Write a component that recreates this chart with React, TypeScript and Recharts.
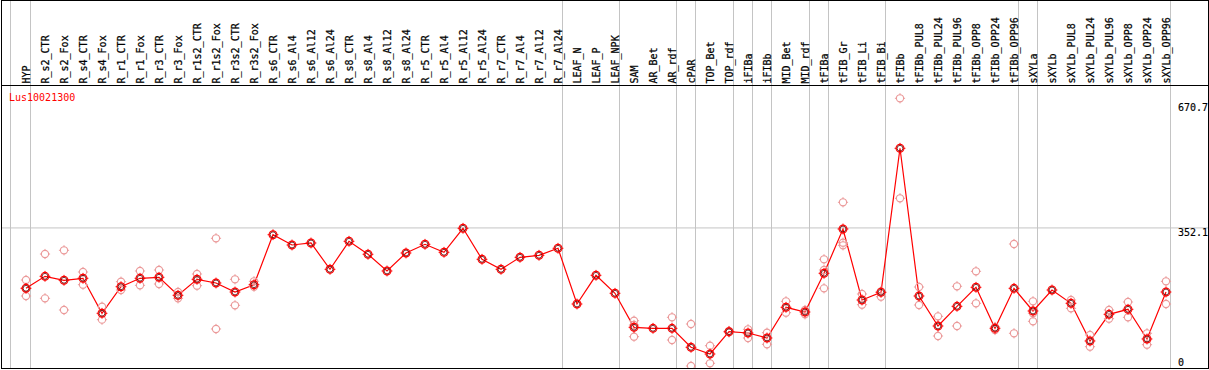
import React from "react";
import { ComposedChart, Line, Scatter, XAxis, YAxis, ReferenceLine } from "recharts";

const title = "Lus10021300";

const categories = [
  "HYP", "R_s2_CTR", "R_s2_Fox", "R_s4_CTR", "R_s4_Fox", "R_r1_CTR", "R_r1_Fox", "R_r3_CTR", "R_r3_Fox",
  "R_r1s2_CTR", "R_r1s2_Fox", "R_r3s2_CTR", "R_r3s2_Fox", "R_s6_CTR", "R_s6_Al4", "R_s6_Al12", "R_s6_Al24",
  "R_s8_CTR", "R_s8_Al4", "R_s8_Al12", "R_s8_Al24", "R_r5_CTR", "R_r5_Al4", "R_r5_Al12", "R_r5_Al24",
  "R_r7_CTR", "R_r7_Al4", "R_r7_Al12", "R_r7_Al24", "LEAF_N", "LEAF_P", "LEAF_NPK", "SAM", "AR_Bet", "AR_rdf",
  "cPAR", "TOP_Bet", "TOP_rdf", "iFIBa", "iFIBb", "MID_Bet", "MID_rdf", "tFIBa", "tFIB_Gr", "tFIB_Li", "tFIB_Bi",
  "tFIBb", "tFIBb_PUL8", "tFIBb_PUL24", "tFIBb_PUL96", "tFIBb_OPP8", "tFIBb_OPP24", "tFIBb_OPP96",
  "sXYLa", "sXYLb", "sXYLb_PUL8", "sXYLb_PUL24", "sXYLb_PUL96", "sXYLb_OPP8", "sXYLb_OPP24", "sXYLb_OPP96",
];

const means = [
  198.1, 228.7, 218.6, 223.7, 134.4, 202.2, 223.7, 226.2, 180.3, 221.1, 211.7, 188.7, 207.3,
  334.8, 308.6, 313.7, 246.6, 318.0, 284.9, 242.3, 288.2, 310.4, 290.0, 351.2, 272.1, 246.6, 277.2, 282.3, 300.2,
  158.1, 231.3, 185.4,
  98.7, 96.1, 96.1, 47.7, 30.6, 87.5, 84.2, 71.4,
  149.7, 137.7, 236.4, 349.4, 168.3, 187.9,
  555.2, 178.5, 102.0, 152.2, 200.7, 96.1, 198.1,
  140.3, 193.8, 159.9, 63.8, 131.8, 144.6, 68.9, 188.7,
];

const replicates: number[][] = [
  [219.3, 198.9, 178.5], [285.6, 172.6], [295.1, 142.8], [239.7, 207.3], [151.2, 118.1],
  [215.0, 193.8], [242.3, 205.8], [244.8, 209.1], [188.7, 172.6], [234.6, 204.8],
  [325.7, 94.4], [221.1, 154.8], [216.0, 202.2],
  [], [], [], [], [], [], [], [], [], [], [], [], [], [], [], [],
  [], [], [],
  [115.5, 104.6, 74.7], [], [124.2, 66.3], [107.1, 0], [51.8, 6.9], [89.3, 86.0], [93.6, 71.4], [84.9, 55.3],
  [165.0, 135.9], [142.8, 131.8], [272.1, 244.8, 198.1], [417.5, 314.4, 307.8], [183.6, 156.3], [190.5, 176.7],
  [682.7, 427.7], [201.5, 155.6], [126.7, 76.5], [203.3, 102.0], [241.5, 159.9], [91.8, 99.5], [311.1, 83.4],
  [165.0, 134.4, 114.0], [], [168.3, 147.1], [79.1, 49.2], [142.8, 120.6], [163.2, 124.2], [83.4, 54.3], [216.0, 158.1],
];

const yTicks = [0, 352.1, 670.7];
const gridValues = [352.1];
const groupEnds = [0, 28, 31, 34, 35, 37, 38, 39, 41, 42, 45, 52, 53, 60];
const leadingSeparator = -0.816;

const FONT = "'DejaVu Sans Mono', monospace";
const W = 1209;
const H = 370;

const lineData = categories.map((c, i) => ({ i, name: c, mean: means[i] }));
const repData = replicates.flatMap((arr, i) => arr.map((v) => ({ i, v })));
const separators = [leadingSeparator, ...groupEnds.map((g) => g + 0.237)];

function Ticks({ cx, cy, r, color }: any) {
  return (
    <g>
      <line x1={cx} y1={cy - r - 1.5} x2={cx} y2={cy - r + 0.5} stroke={color} strokeWidth={1} />
      <line x1={cx} y1={cy + r - 0.5} x2={cx} y2={cy + r + 1.5} stroke={color} strokeWidth={1} />
      <line x1={cx - r - 1.5} y1={cy} x2={cx - r + 0.5} y2={cy} stroke={color} strokeWidth={1} />
      <line x1={cx + r - 0.5} y1={cy} x2={cx + r + 1.5} y2={cy} stroke={color} strokeWidth={1} />
    </g>
  );
}

const MeanDot = (props: any) => {
  const { cx, cy, index } = props;
  if (cx == null || cy == null) return <g key={`m${index}`} />;
  return (
    <g key={`m${index}`}>
      <circle cx={cx} cy={cy} r={3.9} fill="none" stroke="#ff0000" strokeWidth={1.2} />
      <circle cx={cx} cy={cy} r={2.9} fill="none" stroke="#5a0000" strokeWidth={0.8} />
      <Ticks cx={cx} cy={cy} r={3.9} color="#ff0000" />
    </g>
  );
};

const RepShape = (props: any) => {
  const { cx, cy } = props;
  if (cx == null || cy == null) return <g />;
  return (
    <g>
      <circle cx={cx} cy={cy} r={3.6} fill="none" stroke="#eb9a9a" strokeWidth={1.1} />
      <Ticks cx={cx} cy={cy} r={3.6} color="#eb9a9a" />
    </g>
  );
};

const XTick = (props: any) => {
  const { x, payload } = props;
  const label = categories[payload.value];
  return (
    <text
      transform={`translate(${x + 3.5},83.5) rotate(-90)`}
      fontSize={10}
      fontFamily={FONT}
      fill="#000"
      stroke="#000"
      strokeWidth={0.25}
      textAnchor="start"
    >
      {label}
    </text>
  );
};

const YTick = (props: any) => {
  const { y, payload } = props;
  const v = payload.value;
  return (
    <text
      x={1178}
      y={v === 0 ? y : y + 8}
      fontSize={10}
      fontFamily={FONT}
      fill="#000"
      stroke="#000"
      strokeWidth={0.15}
      textAnchor="start"
    >
      {v === 0 ? "0" : v.toFixed(1)}
    </text>
  );
};

const VSep = (props: any) => {
  const { x1 } = props;
  return <line x1={x1} x2={x1} y1={0} y2={369} stroke="#c4c4c4" strokeWidth={1} />;
};

const HGrid = (props: any) => {
  const { y1 } = props;
  return <line x1={2} x2={1208} y1={y1} y2={y1} stroke="#c4c4c4" strokeWidth={1} />;
};

export default function App() {
  return (
    <div style={{ position: "absolute", left: 0, top: 0, width: W, height: H, background: "#fff" }}>
      <ComposedChart width={W} height={H} data={lineData} margin={{ top: 0, right: 0, bottom: 1, left: 7 }}>
        <XAxis
          xAxisId="x"
          type="number"
          dataKey="i"
          domain={[-1, 61]}
          allowDataOverflow
          orientation="top"
          height={85}
          ticks={categories.map((_, i) => i)}
          interval={0}
          tick={XTick}
          axisLine={false}
          tickLine={false}
        />
        <YAxis
          yAxisId="y"
          orientation="right"
          width={24}
          domain={[-7.65, 716.6]}
          allowDataOverflow
          ticks={yTicks}
          interval={0}
          tick={YTick}
          axisLine={false}
          tickLine={false}
        />
        {separators.map((s) => (
          <ReferenceLine key={`s${s}`} xAxisId="x" yAxisId="y" x={s} shape={VSep} ifOverflow="visible" />
        ))}
        {gridValues.map((g) => (
          <ReferenceLine key={`g${g}`} xAxisId="x" yAxisId="y" y={g} shape={HGrid} ifOverflow="visible" />
        ))}
        <Scatter
          xAxisId="x"
          yAxisId="y"
          data={repData}
          dataKey="v"
          shape={RepShape}
          isAnimationActive={false}
        />
        <Line
          xAxisId="x"
          yAxisId="y"
          type="linear"
          dataKey="mean"
          stroke="#ff0000"
          strokeWidth={1.2}
          dot={MeanDot}
          activeDot={false}
          isAnimationActive={false}
        />
      </ComposedChart>
      <svg
        width={W}
        height={H}
        style={{ position: "absolute", left: 0, top: 0, pointerEvents: "none" }}
      >
        <rect x={1.5} y={0.5} width={1207} height={368} fill="none" stroke="#000" strokeWidth={1} />
        <line x1={1} x2={W} y1={85.5} y2={85.5} stroke="#000" strokeWidth={1} />
        <text x={9} y={101} fontSize={10} fontFamily={FONT} fill="#ff0000">
          {title}
        </text>
      </svg>
    </div>
  );
}
